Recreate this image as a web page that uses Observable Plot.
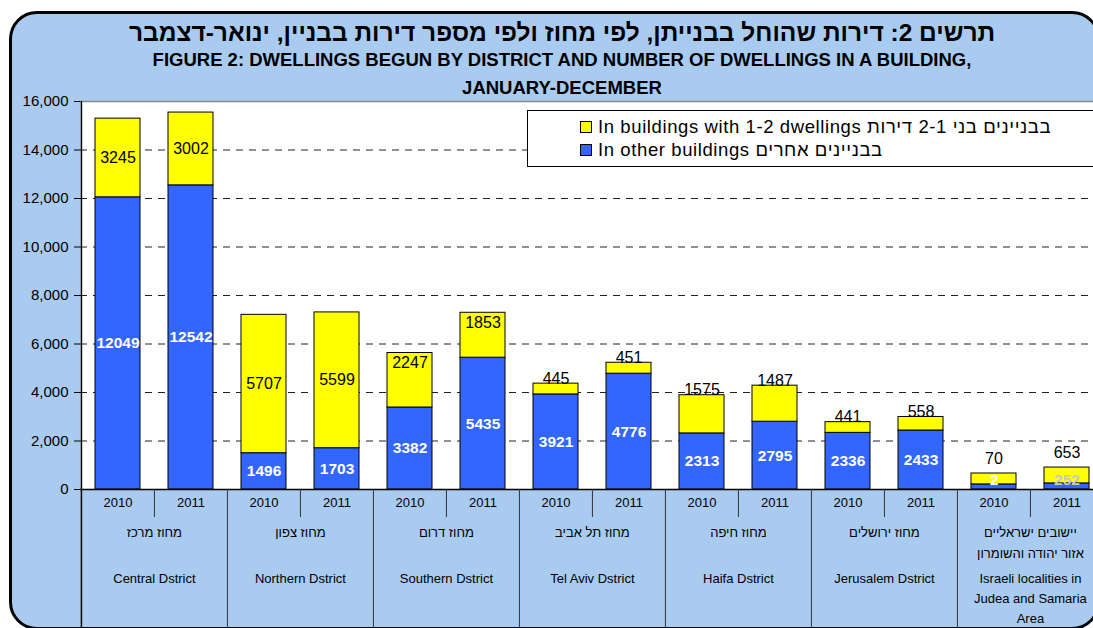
<!DOCTYPE html>
<html>
<head>
<meta charset="utf-8">
<script src="https://cdn.jsdelivr.net/npm/d3@7"></script>
<script src="https://cdn.jsdelivr.net/npm/@observablehq/plot@0.6"></script>
<style>
  html, body { margin: 0; padding: 0; overflow: hidden; background: #fff; }
  #root { width: 1093px; height: 628px; overflow: hidden; position: relative; background: #fff;
          font-family: "Liberation Sans", Arial, sans-serif; }
  #frame { position: absolute; left: 9px; top: 11px; width: 1085px; height: 613px;
           border: 3px solid #000; border-radius: 28px; background: #a9cbf0; }
  .t { position: absolute; left: 0; width: 1124px; text-align: center; color: #000; font-weight: bold; white-space: nowrap; }
  #chart { position: absolute; left: 0; top: 90px; width: 1110px; height: 538px; }
  #chart svg { max-width: none !important; }
  #legend { position: absolute; left: 527px; top: 110px; width: 600px; height: 55px; background: #fff;
            border: 1px solid #000; font-size: 18.5px; letter-spacing: 0.6px; }
  .item { position: absolute; left: 52px; height: 22px; line-height: 22px; white-space: nowrap; }
  .sw { display: inline-block; width: 10px; height: 10px; border: 1px solid #000; margin-right: 6px; vertical-align: 0px; }
</style>
</head>
<body>
<div id="root">
<div id="frame"></div>
<div class="t" style="top:19px; font-size:24.5px; line-height:28px;" dir="rtl">תרשים 2: דירות שהוחל בבנייתן, לפי מחוז ולפי מספר דירות בבניין, ינואר-דצמבר</div>
<div class="t" style="top:49px; font-size:18.5px; line-height:22px;">FIGURE 2: DWELLINGS BEGUN BY DISTRICT AND NUMBER OF DWELLINGS IN A BUILDING,</div>
<div class="t" style="top:77px; font-size:18.5px; line-height:22px;">JANUARY-DECEMBER</div>
<div id="chart"></div>
<div id="legend"></div>
</div>
<script>
// ---- data ----
const districtsEn = ["Central Dstrict", "Northern Dstrict", "Southern Dstrict", "Tel Aviv Dstrict",
  "Haifa Dstrict", "Jerusalem Dstrict", "Israeli localities in\nJudea and Samaria\nArea"];
const districtsHe = ["מחוז מרכז", "מחוז צפון", "מחוז דרום", "מחוז תל אביב", "מחוז חיפה",
  "מחוז ירושלים", "יישובים ישראליים\nאזור יהודה והשומרון"];
const years = ["2010", "2011"];
const other2010 = [12049, 1496, 3382, 3921, 2313, 2336, 210];
const other2011 = [12542, 1703, 5435, 4776, 2795, 2433, 252];
const small2010 = [3245, 5707, 2247, 445, 1575, 441, 450];
const small2011 = [3002, 5599, 1853, 451, 1487, 558, 653];
const otherLabels2010 = ["12049", "1496", "3382", "3921", "2313", "2336", "2"];
const otherLabels2011 = ["12542", "1703", "5435", "4776", "2795", "2433", "252"];
const smallLabels2010 = ["3245", "5707", "2247", "445", "1575", "441", "70"];
const smallLabels2011 = ["3002", "5599", "1853", "451", "1487", "558", "653"];
const yTicks = [0, 2000, 4000, 6000, 8000, 10000, 12000, 14000, 16000];
const seriesNames = ["In buildings with 1-2 dwellings בבניינים בני 2-1 דירות", "In other buildings בבניינים אחרים"];
const seriesColors = ["#ffff00", "#3366ff"];

// ---- table ----
const rows = [];
districtsEn.forEach((en, i) => years.forEach((yr, j) => {
  rows.push({
    key: `${i}-${yr}`, di: i, year: yr, en, he: districtsHe[i],
    other: (j ? other2011 : other2010)[i],
    small: (j ? small2011 : small2010)[i],
    oLab: (j ? otherLabels2011 : otherLabels2010)[i],
    sLab: (j ? smallLabels2011 : smallLabels2010)[i]
  });
}));
const keys = rows.map(d => d.key);

// ---- layout ----
const W = 1110, H = 538, ml = 80, mr = 6, mt = 11, mb = 139;
const step = (W - ml - mr) / keys.length;
const frameH = H - mt - mb;
const font = "Liberation Sans, Arial, sans-serif";
const lastDistrict = districtsEn.length - 1;
const isGrey = d => d.di === lastDistrict && d.year === "2011";

const svg = Plot.plot({
  width: W, height: H,
  marginLeft: ml, marginRight: mr, marginTop: mt, marginBottom: mb,
  style: { background: "transparent", fontFamily: font, fontSize: "13px", color: "#000", overflow: "visible", maxWidth: "none" },
  x: { type: "band", domain: keys, paddingInner: 0.385, paddingOuter: 0.1925, axis: null },
  y: { domain: [0, 16000], axis: null },
  marks: [
    Plot.frame({ fill: "#fff", stroke: "none" }),
    Plot.gridY(yTicks.filter(t => t > 0 && t < 16000), { stroke: "#222", strokeOpacity: 1, strokeDasharray: "7,6" }),
    Plot.ruleY([16000], { stroke: "#8a8a8a", strokeWidth: 1.5 }),
    Plot.barY(rows, { x: "key", y1: 0, y2: "other", fill: seriesColors[1], stroke: "#000", strokeWidth: 1 }),
    Plot.barY(rows, { x: "key", y1: "other", y2: d => d.other + d.small, fill: seriesColors[0], stroke: "#000", strokeWidth: 1 }),
    Plot.ruleY([0], { stroke: "#000", strokeWidth: 1.5 }),
    Plot.axisY(yTicks, { tickFormat: d3.format(","), tickSize: 6, tickPadding: 6, fontSize: 15, label: null }),
    // y axis line extending down through the category area
    Plot.ruleX([keys[0]], { x: d => d, dx: -step / 2, stroke: "#000", strokeWidth: 1.5, insetBottom: -mb }),
    // district separators below the axis
    Plot.ruleX(keys.filter((k, i) => i % 2 === 0 && i > 0), { x: d => d, dx: -step / 2, stroke: "#333", insetTop: frameH, insetBottom: -mb }),
    // year separators
    Plot.ruleX(keys.filter((k, i) => i % 2 === 1), { x: d => d, dx: -step / 2, stroke: "#333", insetTop: frameH, insetBottom: -28 }),
    // year labels
    Plot.text(rows, { x: "key", text: "year", frameAnchor: "bottom", dy: 17, fontSize: 13 }),
    // district labels (centered on the 2011 slot boundary)
    Plot.text(rows.filter(d => d.year === "2011"), { x: "key", text: "he", frameAnchor: "bottom", dx: -step / 2, dy: 33, lineAnchor: "top", lineHeight: 1.6, fontSize: 13, ariaLabel: "hebrew" }),
    Plot.text(rows.filter(d => d.year === "2011"), { x: "key", text: "en", frameAnchor: "bottom", dx: -step / 2, dy: 79, lineAnchor: "top", lineHeight: 1.55, fontSize: 13 }),
    // value labels: other buildings
    Plot.text(rows.filter(d => !isGrey(d)), { x: "key", y: d => Math.max(d.other / 2, 370), text: "oLab", fill: "#fff", fontWeight: "bold", fontSize: 15.5 }),
    Plot.text(rows.filter(isGrey), { x: "key", y: d => Math.max(d.other / 2, 370), text: "oLab", fill: "#c8c8c8", fontWeight: "bold", fontSize: 15.5 }),
    // value labels: 1-2 dwellings
    Plot.text(rows.filter(d => d.small >= 2500), { x: "key", y: d => d.other + d.small / 2, text: "sLab", fill: "#000", fontSize: 16 }),
    Plot.text(rows.filter(d => d.small >= 1800 && d.small < 2500), { x: "key", y: d => d.other + d.small, dy: 10, text: "sLab", fill: "#000", fontSize: 16 }),
    Plot.text(rows.filter(d => d.small < 1800 && d.other >= 300), { x: "key", y: d => d.other + d.small, dy: -5, text: "sLab", fill: "#000", fontSize: 16 }),
    Plot.text(rows.filter(d => d.small < 1800 && d.other < 300), { x: "key", y: d => d.other + d.small, dy: -15, text: "sLab", fill: "#000", fontSize: 16 })
  ]
});
d3.select(svg).selectAll('g[aria-label="hebrew"] text').style("letter-spacing", "1px");
document.getElementById("chart").appendChild(svg);

// ---- legend ----
const legend = d3.select("#legend");
seriesNames.forEach((name, i) => {
  const it = legend.append("div").attr("class", "item").style("top", (5 + i * 23) + "px");
  it.append("span").attr("class", "sw").style("background", seriesColors[i]);
  it.append("span").text(name);
});
</script>
</body>
</html>
